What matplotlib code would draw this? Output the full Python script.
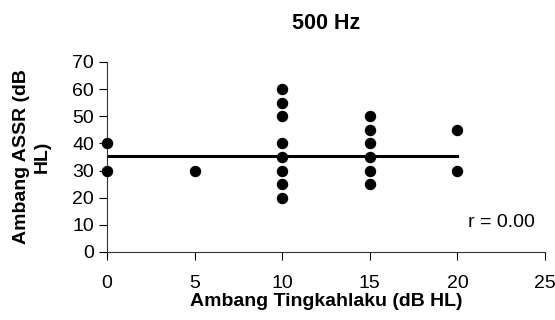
import matplotlib
matplotlib.use("Agg")
import matplotlib.pyplot as plt

plt.rcParams["font.family"] = ["Liberation Sans", "DejaVu Sans"]

# behavioural threshold (x) vs ASSR threshold (y)
x_vals = [0, 0, 5, 10, 10, 10, 10, 10, 10, 10, 10,
          15, 15, 15, 15, 15, 15, 20, 20]
y_vals = [40, 30, 30, 60, 55, 50, 40, 35, 30, 25, 20,
          50, 45, 40, 35, 30, 25, 45, 30]

trend_x = [0, 20]
trend_y = [35.5, 35.5]

x_ticks = [0, 5, 10, 15, 20, 25]
y_ticks = [0, 10, 20, 30, 40, 50, 60, 70]

fig = plt.figure(figsize=(5.55, 3.2), dpi=100)
ax = fig.add_axes([0.193, 0.2125, 0.789, 0.594])

ax.plot(trend_x, trend_y, color="black", lw=2.2, zorder=2)
ax.scatter(x_vals, y_vals, s=52, color="black", zorder=3, clip_on=False)

ax.set_xlim(0, 25)
ax.set_ylim(0, 70)
ax.set_xticks(x_ticks)
ax.set_yticks(y_ticks)
ax.tick_params(direction="out", length=5.5, width=0.8, labelsize=14)
ax.tick_params(axis="y", pad=4)
ax.tick_params(axis="x", pad=11)
for side in ["top", "right"]:
    ax.spines[side].set_visible(False)
for side in ["left", "bottom"]:
    ax.spines[side].set_color("#333333")
    ax.spines[side].set_linewidth(0.8)

ax.set_title("500 Hz", fontsize=15.5, fontweight="bold", pad=24)
ax.set_xlabel("Ambang Tingkahlaku (dB HL)", fontsize=14, fontweight="bold", labelpad=1)
ax.set_ylabel("Ambang ASSR (dB\nHL)", fontsize=14, fontweight="bold", labelpad=15,
              linespacing=1.35)

ax.text(24.4, 11, "r = 0.00", fontsize=14, ha="right", va="center")

fig.savefig("out.png", dpi=100)
